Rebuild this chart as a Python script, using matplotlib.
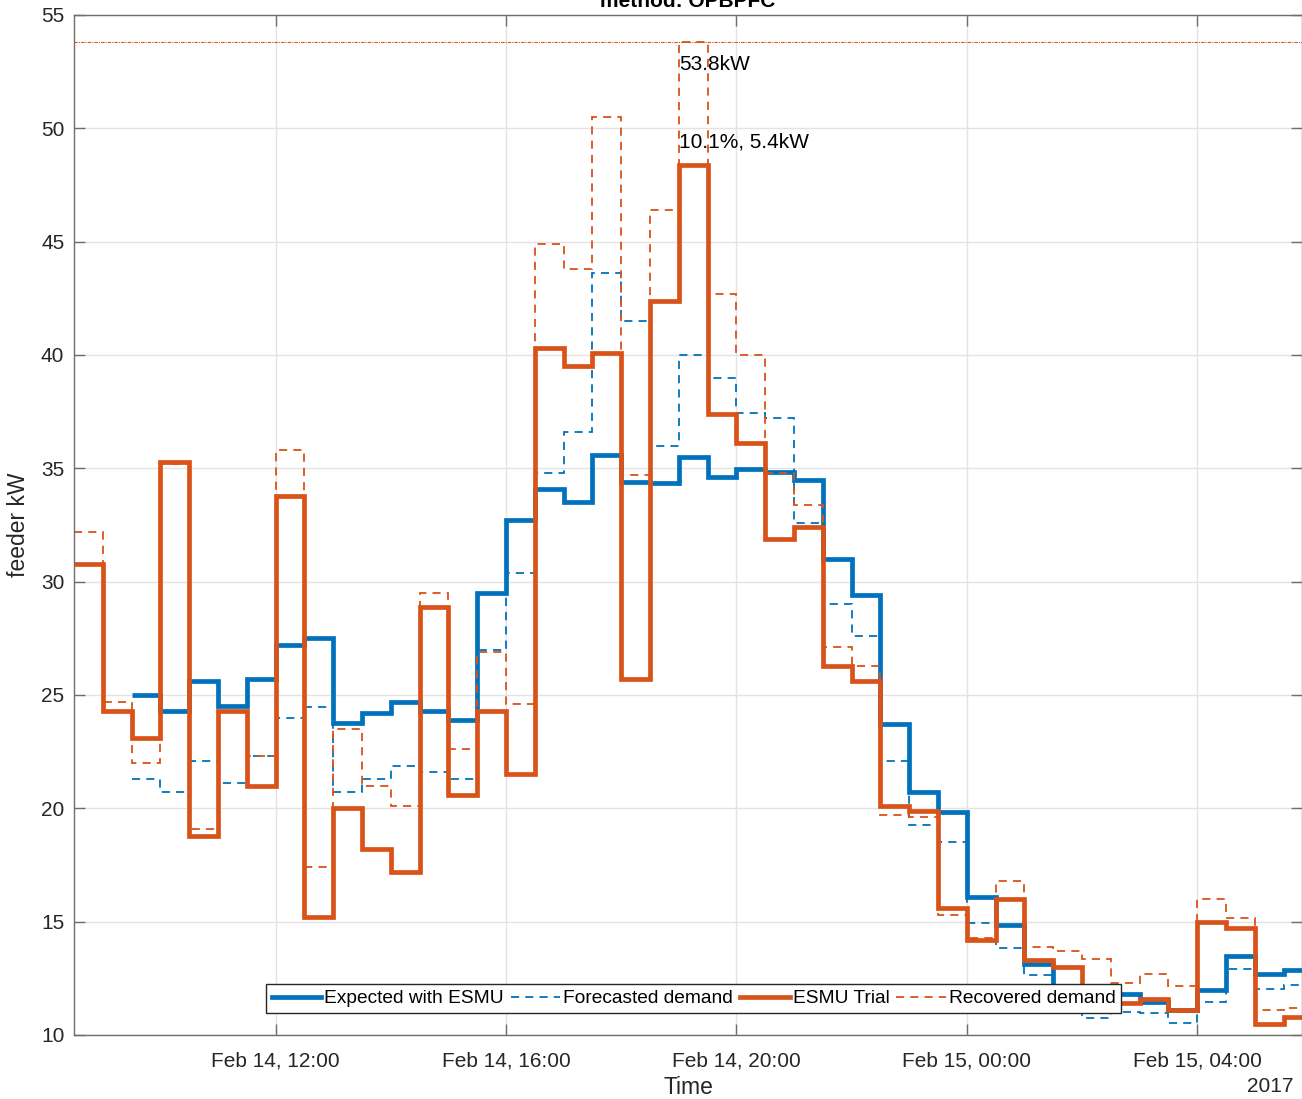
"""Feeder demand during the ESMU trial, method OPBPFC."""

from datetime import datetime, timedelta

import matplotlib

matplotlib.use("Agg")
import matplotlib.dates as mdates
import matplotlib.pyplot as plt
import numpy as np

BLUE = "#0072BD"
ORANGE = "#D95319"
FONT = ["Liberation Sans", "DejaVu Sans"]

# half-hourly values, trial series start 08:30, blue series start 09:30
START_TRIAL = datetime(2017, 2, 14, 8, 30)
START_EXPECTED = datetime(2017, 2, 14, 9, 30)
STEP = timedelta(minutes=30)

esmu_trial = [
    30.8, 24.3, 23.1, 35.3, 18.8, 24.3, 21.0, 33.8, 15.2, 20.0,
    18.2, 17.2, 28.9, 20.6, 24.3, 21.5, 40.3, 39.5, 40.1, 25.7,
    42.4, 48.4, 37.4, 36.1, 31.9, 32.4, 26.3, 25.6, 20.1, 19.9,
    15.6, 14.2, 16.0, 13.3, 13.0, 11.6, 11.4, 11.6, 11.1, 15.0,
    14.7, 10.5, 10.8,
]
recovered_demand = [
    32.2, 24.7, 22.0, 35.2, 19.1, 24.3, 22.3, 35.8, 17.4, 23.5,
    21.0, 20.1, 29.5, 22.6, 26.9, 24.6, 44.9, 43.8, 50.5, 34.7,
    46.4, 53.8, 42.7, 40.0, 34.8, 33.4, 27.1, 26.3, 19.7, 19.6,
    15.3, 14.3, 16.8, 13.9, 13.7, 13.35, 12.3, 12.7, 12.15, 16.0,
    15.15, 11.1, 11.2,
]
expected_esmu = [
    25.0, 24.3, 25.6, 24.5, 25.7, 27.2, 27.5, 23.75, 24.2, 24.7,
    24.3, 23.9, 29.5, 32.7, 34.1, 33.5, 35.6, 34.4, 34.35, 35.5,
    34.6, 34.95, 34.85, 34.5, 31.0, 29.4, 23.7, 20.7, 19.85, 16.1,
    14.85, 13.15, 12.0, 11.9, 11.8, 11.45, 11.1, 12.0, 13.5, 12.7,
    12.85,
]
forecast_demand = [
    21.3, 20.7, 22.1, 21.1, 22.3, 24.0, 24.45, 20.7, 21.3, 21.85,
    21.6, 21.3, 27.0, 30.4, 34.8, 36.6, 43.6, 41.5, 36.0, 40.0,
    39.0, 37.45, 37.2, 32.6, 29.0, 27.6, 22.1, 19.25, 18.5, 14.95,
    13.85, 12.65, 12.0, 10.75, 11.0, 10.95, 10.55, 11.45, 12.9, 12.05,
    12.2,
]

peak_label = "53.8kW"
reduction_label = "10.1%, 5.4kW"
peak_time = datetime(2017, 2, 14, 19, 0)
peak_value = 53.8


def edges(start, n):
    return mdates.date2num([start + STEP * k for k in range(n + 1)])


def main():
    plt.rcParams["font.family"] = FONT
    fig = plt.figure(figsize=(13.02, 10.99), dpi=100)
    ax = fig.add_axes([74 / 1302, 64 / 1099, 1228 / 1302, 1020 / 1099])

    ax.stairs(expected_esmu, edges(START_EXPECTED, len(expected_esmu)),
              baseline=None, color=BLUE, lw=3.4, label="Expected with ESMU")
    ax.stairs(forecast_demand, edges(START_EXPECTED, len(forecast_demand)),
              baseline=None, color=BLUE, lw=1.3, linestyle=(0, (4.5, 3.4)),
              label="Forecasted demand")
    ax.stairs(esmu_trial, edges(START_TRIAL, len(esmu_trial)),
              baseline=None, color=ORANGE, lw=3.4, label="ESMU Trial")
    ax.stairs(recovered_demand, edges(START_TRIAL, len(recovered_demand)),
              baseline=None, color=ORANGE, lw=1.3, linestyle=(0, (4.5, 3.4)),
              label="Recovered demand")

    ax.axhline(peak_value, color=ORANGE, lw=0.8, linestyle=(0, (3, 1, 1, 1)))
    tx = mdates.date2num(peak_time)
    ax.text(tx, 52.8, peak_label, fontsize=15, va="center", ha="left", color="black")
    ax.text(tx, 49.4, reduction_label, fontsize=15, va="center", ha="left", color="black")

    x0 = mdates.date2num(START_TRIAL)
    ax.set_xlim(x0, x0 + 21.32 / 24)
    ax.set_ylim(10, 55)
    ax.set_yticks(np.arange(10, 56, 5))
    ax.xaxis.set_major_locator(mdates.HourLocator(byhour=range(0, 24, 4)))
    ax.xaxis.set_major_formatter(mdates.DateFormatter("%b %d, %H:%M"))

    ax.grid(True, color="#e3e3e3", lw=1)
    ax.set_axisbelow(True)
    ax.tick_params(direction="in", length=8, width=1, color="#6e6e6e",
                   labelsize=15, labelcolor="#262626", top=True, right=True)
    ax.tick_params(axis="x", pad=12)
    ax.tick_params(axis="y", pad=7)
    for spine in ax.spines.values():
        spine.set_color("#6e6e6e")
        spine.set_linewidth(1)

    ax.set_xlabel("Time", fontsize=16.5, color="#262626", labelpad=4)
    ax.set_ylabel("feeder kW", fontsize=16.5, color="#262626", labelpad=8)
    ax.set_title("method: OPBPFC", fontsize=15, fontweight="bold", pad=6)
    fig.text(1293 / 1302, 1 - 1087 / 1099, "2017", fontsize=15, color="#262626",
             ha="right", va="center")

    leg = ax.legend(ncol=4, loc="lower center", bbox_to_anchor=(0.5045, 0.0216),
                    borderaxespad=0, fontsize=13.8, handlelength=2.6,
                    handletextpad=0.15, columnspacing=0.35, borderpad=0.3,
                    fancybox=False, framealpha=1, edgecolor="#262626")
    leg.get_frame().set_linewidth(1)

    fig.savefig("out.png", dpi=100)
    plt.close(fig)


if __name__ == "__main__":
    main()
